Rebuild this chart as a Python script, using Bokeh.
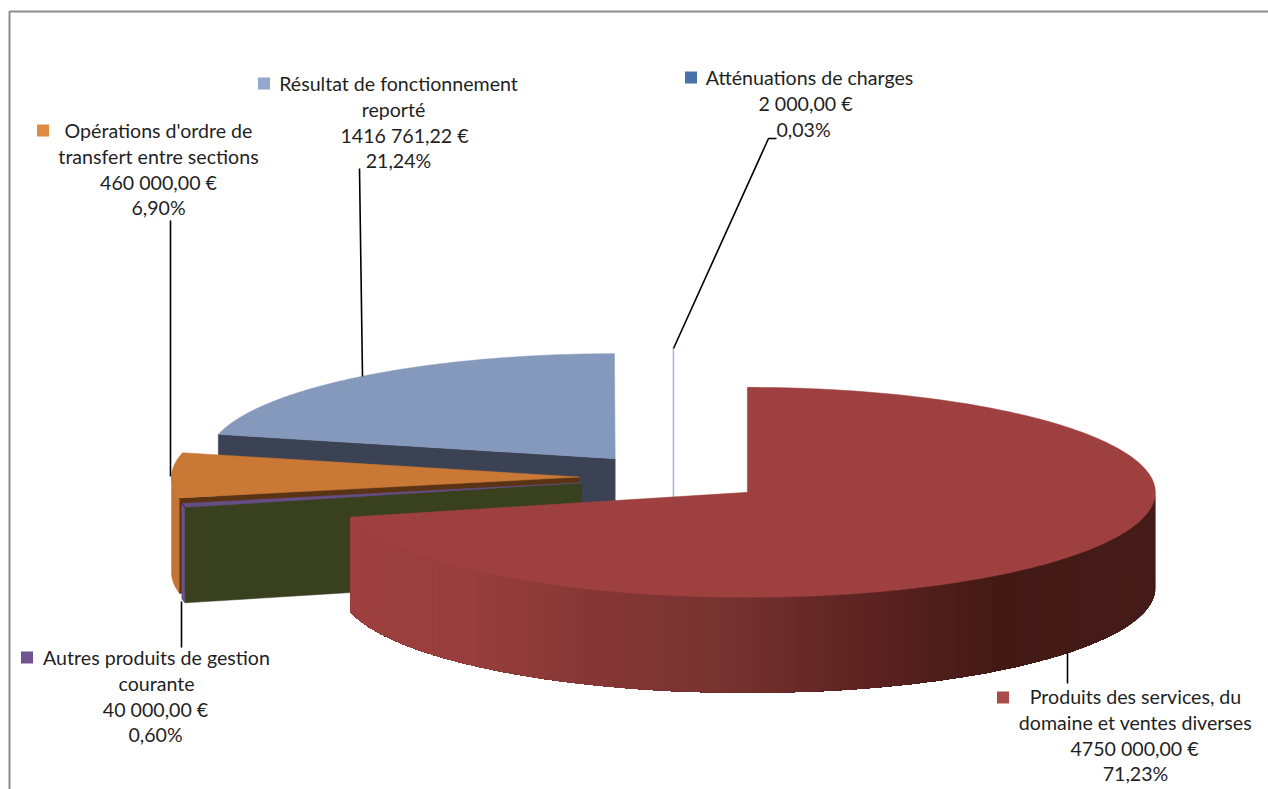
import math
from bokeh.core.properties import value
from bokeh.embed import file_html
from bokeh.models import Range1d
from bokeh.plotting import figure
from bokeh.resources import INLINE

# ---- data, clockwise from twelve o'clock
categories = ["Atténuations de charges", "Produits des services, du domaine et ventes diverses",
              "Autres produits de gestion courante", "Opérations d'ordre de transfert entre sections",
              "Résultat de fonctionnement reporté"]
amounts = [2000.00, 4750000.00, 40000.00, 460000.00, 1416761.22]
order = [1, 2, 3, 4, 0]

label_atten = ["Atténuations de charges", "2 000,00 €", "0,03%"]
label_prod = ["Produits des services, du", "domaine et ventes diverses", "4750 000,00 €", "71,23%"]
label_autres = ["Autres produits de gestion", "courante", "40 000,00 €", "0,60%"]
label_oper = ["Opérations d'ordre de", "transfert entre sections", "460 000,00 €", "6,90%"]
label_result = ["Résultat de fonctionnement", "reporté", "1416 761,22 €", "21,24%"]

# ---- layout (page pixels) and styles
CX, CY, RX, RY, DEPTH, EX, EY = 673, 477, 408, 105, 95.5, 94, 24
FONT = "Lato"
FS = "19.6px"
TEXT = "#1f1f1f"

p = figure(width=1268, height=789, toolbar_location=None, output_backend="svg",
           x_range=Range1d(0, 1268), y_range=Range1d(789, 0), min_border=0,
           x_axis_type=None, y_axis_type=None, outline_line_color=None)
p.grid.visible = False
p.background_fill_color = "white"
p.border_fill_color = "white"

total = sum(amounts)
ang = {}
a = 0.0
for i in order:
    s = amounts[i] / total * 2 * math.pi
    ang[i] = (a, a + s)
    a += s


def centre(i):
    m = sum(ang[i]) / 2
    return CX + EX * math.sin(m), CY - EY * math.cos(m)


def rim(i, t):
    cx, cy = centre(i)
    return cx + RX * math.sin(t), cy - RY * math.cos(t)


def arc(i, t0, t1, n=90):
    return [rim(i, t0 + (t1 - t0) * k / n) for k in range(n + 1)]


def poly(pts, color, lw=0.5):
    p.patch([q[0] for q in pts], [q[1] for q in pts], fill_color=color,
            line_color=color if lw else None, line_width=lw or 1)


def top(i, color):
    t0, t1 = ang[i]
    poly([centre(i)] + arc(i, t0, t1, 200), color)


def cut(i, t, color):
    c = centre(i)
    e = rim(i, t)
    poly([c, e, (e[0], e[1] + DEPTH), (c[0], c[1] + DEPTH)], color)


def wall(i, t0, t1, color, lw=0.5, n=90):
    pts = arc(i, t0, t1, n)
    poly(pts + [(x, y + DEPTH) for x, y in reversed(pts)], color, lw)


ATT, PROD, AUT, OPE, RES = 0, 1, 2, 3, 4

cut(RES, ang[RES][0], "#3b4254")
top(RES, "#8599bc")

c0 = centre(ATT)
r0 = rim(ATT, ang[ATT][1])
p.line([c0[0], r0[0]], [c0[1] + DEPTH, r0[1]], line_color="#a3b8d6", line_width=1.5)

wall(OPE, ang[OPE][0], 1.5 * math.pi, "#c47535")
cut(OPE, ang[OPE][0], "#5a3214")
top(OPE, "#c97835")

wall(AUT, ang[AUT][0], ang[AUT][1], "#6a5289")
cut(AUT, ang[AUT][0], "#38401e")
top(AUT, "#654e86")

# red wall as overlapping shaded strips
stops = [(350, (157, 64, 64)), (470, (152, 62, 60)), (600, (133, 55, 53)), (720, (119, 51, 49)),
         (860, (94, 36, 34)), (1000, (67, 25, 22)), (1155, (69, 28, 25))]


def shade(x):
    for (x0, c0_), (x1, c1_) in zip(stops, stops[1:]):
        if x <= x1:
            f = max(0, (x - x0) / (x1 - x0))
            return "#%02x%02x%02x" % tuple(round(u + (v - u) * f) for u, v in zip(c0_, c1_))
    return "#%02x%02x%02x" % stops[-1][1]


t_start = 0.5 * math.pi
t_end = ang[PROD][1]
N = 160
for k in range(N):
    t0 = t_start + (t_end - t_start) * k / N
    wall(PROD, t0, t_end, shade(rim(PROD, t0)[0]), lw=0, n=max(2, N - k))
top(PROD, "#9e4040")

# frame
p.line([1268, 9, 9], [11, 11, 789], line_color="#8c8c8c", line_width=2)

# leaders
leaders = [([673, 768, 776], [348, 138, 138]), ([362, 359], [376, 168]),
           ([170, 170], [476, 220]), ([181, 181], [601, 647]), ([1067, 1067], [652, 683])]
for lx, ly in leaders:
    p.line(lx, ly, line_color="black", line_width=1.6)


def label(lines, xs, y0, step=25.8):
    for n, (s, x) in enumerate(zip(lines, xs)):
        p.text([x], [y0 + n * step], text=[s], text_font=value(FONT), text_font_size=value(FS),
               text_color=TEXT, text_align="center", text_baseline="middle")


label(label_atten, [809, 805, 803], 77)
label(label_result, [398, 393, 404, 398], 83)
label(label_oper, [158, 158, 158, 158], 130)
label(label_autres, [156, 156, 155, 155], 657)
label(label_prod, [1135, 1135, 1134, 1135], 696)

markers = [(690.5, 77, "#4672a8"), (263.5, 83, "#95a9d0"), (42.5, 130, "#e08a42"),
           (26.5, 657, "#6f5491"), (1002.5, 697, "#ab4b4b")]
for mx, my, mc in markers:
    p.scatter([mx], [my], marker="square", size=12, fill_color=mc, line_color=None)

open("out.html", "w").write(file_html(p, INLINE))
